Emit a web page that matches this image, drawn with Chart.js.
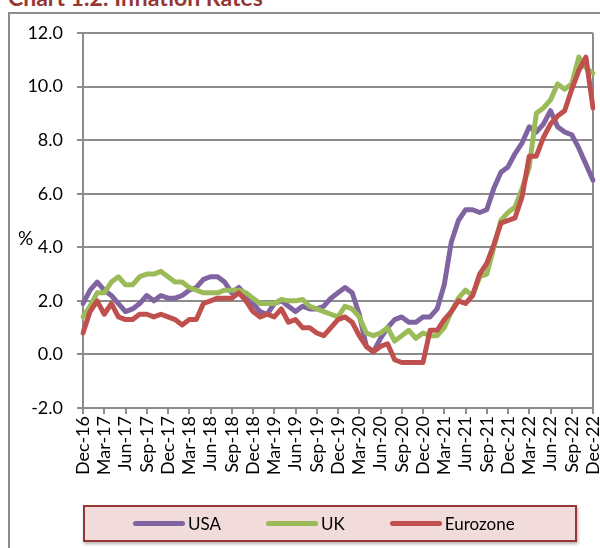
<!DOCTYPE html>
<html>
<head>
<meta charset="utf-8">
<script src="https://cdn.jsdelivr.net/npm/chart.js@4.4.0/dist/chart.umd.min.js"></script>
<style>
  html, body { margin: 0; padding: 0; background: #fff; }
  body { width: 600px; height: 548px; position: relative; overflow: hidden; font-family: Lato, sans-serif; }
  #frame { position: absolute; left: 8px; top: 12px; width: 640px; height: 600px; border: 2px solid #8c8c8c; box-sizing: border-box; }
  #title { position: absolute; left: 8px; top: -17px; font: bold 23px Lato; color: #953735; white-space: nowrap; }
  #unit { position: absolute; left: 18px; top: 226px; font: 19px Lato; color: #000; }
  #chart { position: absolute; left: 0; top: 0; }
  #legend { position: absolute; left: 83px; top: 505px; width: 494px; height: 37px; box-sizing: border-box;
            background: #f2dcdb; border: 2px solid #953735; box-shadow: 1px 2px 3px rgba(0,0,0,0.3);
            display: flex; align-items: center; padding-left: 48px; }
  .item { display: flex; align-items: center; margin-right: 45px; font: 17px Lato; color: #000; }
  .swatch { width: 52px; height: 5px; border-radius: 3px; margin-right: 3px; }
</style>
</head>
<body>
<div id="frame"></div>
<div id="title">Chart 1.2: Inflation Rates</div>
<canvas id="chart" width="600" height="548"></canvas>
<div id="unit">%</div>
<div id="legend"></div>
<script>
// months Dec-16 .. Dec-22
const months = [
  'Dec-16','Jan-17','Feb-17','Mar-17','Apr-17','May-17','Jun-17','Jul-17','Aug-17','Sep-17','Oct-17','Nov-17',
  'Dec-17','Jan-18','Feb-18','Mar-18','Apr-18','May-18','Jun-18','Jul-18','Aug-18','Sep-18','Oct-18','Nov-18',
  'Dec-18','Jan-19','Feb-19','Mar-19','Apr-19','May-19','Jun-19','Jul-19','Aug-19','Sep-19','Oct-19','Nov-19',
  'Dec-19','Jan-20','Feb-20','Mar-20','Apr-20','May-20','Jun-20','Jul-20','Aug-20','Sep-20','Oct-20','Nov-20',
  'Dec-20','Jan-21','Feb-21','Mar-21','Apr-21','May-21','Jun-21','Jul-21','Aug-21','Sep-21','Oct-21','Nov-21',
  'Dec-21','Jan-22','Feb-22','Mar-22','Apr-22','May-22','Jun-22','Jul-22','Aug-22','Sep-22','Oct-22','Nov-22',
  'Dec-22'
];

const usa = [
  1.9, 2.4, 2.7, 2.4, 2.2, 1.9, 1.6, 1.7, 1.9, 2.2, 2.0, 2.2,
  2.1, 2.1, 2.2, 2.4, 2.5, 2.8, 2.9, 2.9, 2.7, 2.3, 2.5, 2.2,
  1.9, 1.6, 1.5, 1.9, 2.0, 1.8, 1.6, 1.8, 1.7, 1.7, 1.8, 2.1,
  2.3, 2.5, 2.3, 1.5, 0.3, 0.1, 0.6, 1.0, 1.3, 1.4, 1.2, 1.2,
  1.4, 1.4, 1.7, 2.6, 4.2, 5.0, 5.4, 5.4, 5.3, 5.4, 6.2, 6.8,
  7.0, 7.5, 7.9, 8.5, 8.3, 8.6, 9.1, 8.5, 8.3, 8.2, 7.7, 7.1,
  6.5
];

const uk = [
  1.4, 1.8, 2.3, 2.3, 2.7, 2.9, 2.6, 2.6, 2.9, 3.0, 3.0, 3.1,
  2.9, 2.7, 2.7, 2.5, 2.4, 2.3, 2.3, 2.3, 2.4, 2.4, 2.4, 2.3,
  2.1, 1.9, 1.9, 1.9, 2.05, 2.0, 2.0, 2.05, 1.8, 1.7, 1.6, 1.5,
  1.4, 1.8, 1.7, 1.4, 0.8, 0.7, 0.8, 1.0, 0.5, 0.7, 0.9, 0.6,
  0.8, 0.7, 0.7, 1.0, 1.6, 2.1, 2.4, 2.2, 2.9, 3.0, 4.0, 5.0,
  5.3, 5.5, 6.2, 7.0, 9.0, 9.2, 9.5, 10.1, 9.9, 10.1, 11.1, 10.7,
  10.5
];

const eurozone = [
  0.8, 1.6, 2.0, 1.5, 1.9, 1.4, 1.3, 1.3, 1.5, 1.5, 1.4, 1.5,
  1.4, 1.3, 1.1, 1.3, 1.3, 1.9, 2.0, 2.1, 2.1, 2.1, 2.3, 2.0,
  1.6, 1.4, 1.5, 1.4, 1.7, 1.2, 1.3, 1.0, 1.0, 0.8, 0.7, 1.0,
  1.3, 1.4, 1.2, 0.7, 0.3, 0.1, 0.3, 0.4, -0.2, -0.3, -0.3, -0.3,
  -0.3, 0.9, 0.9, 1.3, 1.6, 2.0, 1.9, 2.2, 3.0, 3.4, 4.1, 4.9,
  5.0, 5.1, 5.9, 7.4, 7.4, 8.1, 8.6, 8.9, 9.1, 9.9, 10.6, 11.1,
  9.2
];

const gridColor = '#8c8c8c';
const tickFont = { family: 'Lato', size: 18 };

function series(label, data, color, order) {
  return {
    label: label,
    data: data,
    borderColor: color,
    backgroundColor: color,
    borderWidth: 5,
    borderJoinStyle: 'round',
    borderCapStyle: 'round',
    pointRadius: 0,
    tension: 0,
    order: order
  };
}

// right edge of the plot box
const plotBorder = {
  id: 'plotBorder',
  beforeDatasetsDraw(chart) {
    const { ctx, chartArea: a } = chart;
    ctx.save();
    ctx.strokeStyle = gridColor;
    ctx.lineWidth = 2;
    ctx.beginPath();
    ctx.moveTo(a.right, a.top);
    ctx.lineTo(a.right, a.bottom);
    ctx.stroke();
    ctx.restore();
  }
};

const chart = new Chart(document.getElementById('chart'), {
  type: 'line',
  data: {
    labels: months,
    datasets: [
      series('USA', usa, '#8064a2', 3),
      series('UK', uk, '#9bbb59', 2),
      series('Eurozone', eurozone, '#c0504d', 1)
    ]
  },
  options: {
    responsive: false,
    animation: false,
    events: [],
    layout: { padding: { left: 10, right: 7, top: 33, bottom: 40 } },
    plugins: {
      legend: { display: false },
      tooltip: { enabled: false }
    },
    scales: {
      x: {
        grid: { drawOnChartArea: false, color: gridColor, lineWidth: 2, tickLength: 6 },
        border: { color: gridColor, width: 2 },
        ticks: {
          autoSkip: false,
          minRotation: 90,
          maxRotation: 90,
          padding: 2,
          color: '#000',
          font: tickFont,
          callback: (v, i) => (i % 3 === 0 ? months[i] : null)
        },
        afterFit(scale) {
          scale.height = 100;
          scale.paddingLeft = 0;
          scale.paddingRight = 0;
        }
      },
      y: {
        min: -2,
        max: 12,
        grid: { color: gridColor, lineWidth: 2, tickLength: 6 },
        border: { color: gridColor, width: 2 },
        ticks: {
          stepSize: 2,
          padding: 14,
          color: '#000',
          font: tickFont,
          callback: v => v.toFixed(1)
        },
        afterFit(scale) {
          scale.width = 73;
        }
      }
    }
  },
  plugins: [plotBorder]
});

// legend box built from the datasets
const legend = document.getElementById('legend');
chart.data.datasets.forEach(ds => {
  const item = document.createElement('div');
  item.className = 'item';
  const sw = document.createElement('span');
  sw.className = 'swatch';
  sw.style.background = ds.borderColor;
  const txt = document.createElement('span');
  txt.textContent = ds.label;
  item.appendChild(sw);
  item.appendChild(txt);
  legend.appendChild(item);
});
</script>
</body>
</html>
